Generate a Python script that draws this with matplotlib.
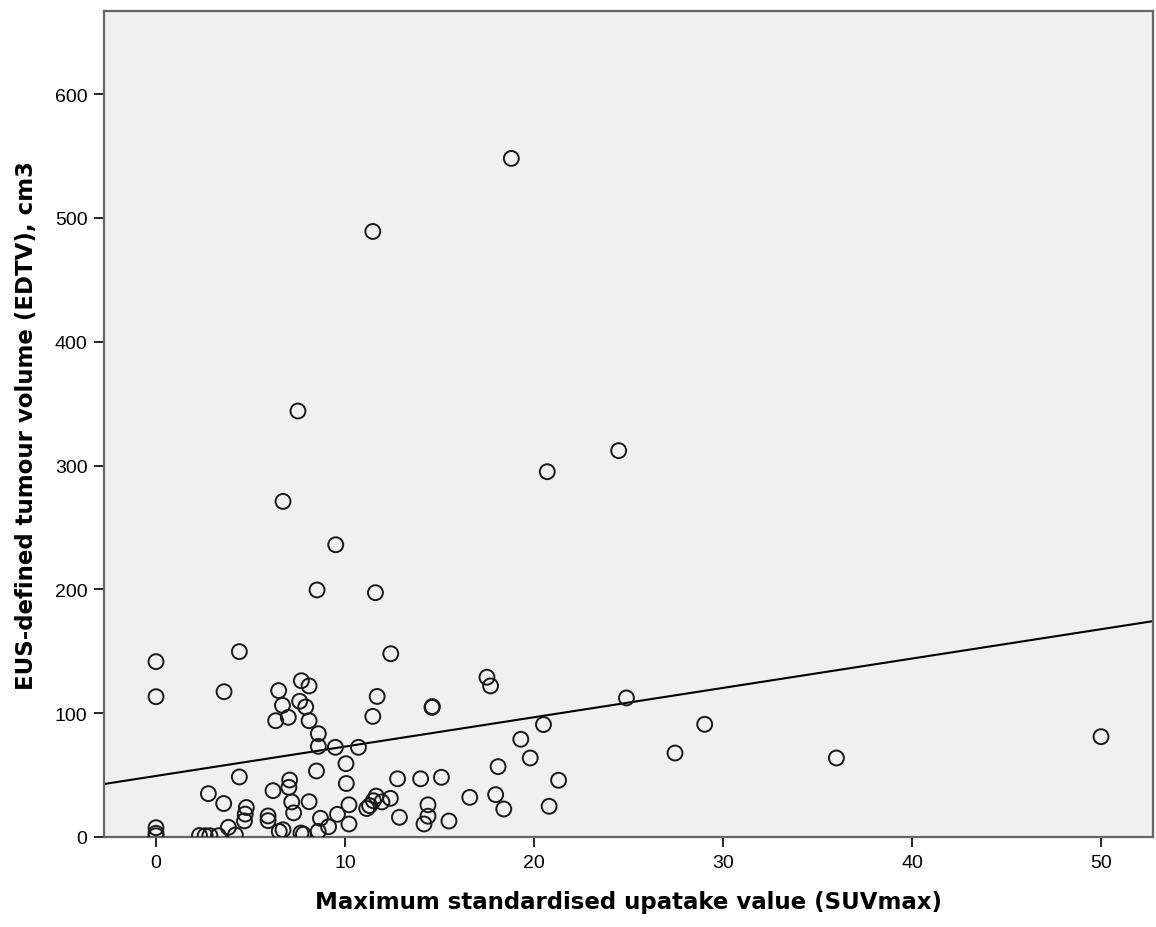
import numpy as np
import matplotlib
matplotlib.use("Agg")
import matplotlib.pyplot as plt

# SUVmax vs EUS-defined tumour volume, one entry per patient
suv_max = [
    18.8, 11.47, 7.51, 6.72, 24.48, 20.7, 9.51, 8.52, 11.61,
    0.0, 0.0, 4.41, 3.6, 12.42, 7.69, 8.1, 6.49, 7.6, 7.92, 6.69,
    7.0, 6.33, 8.1, 8.59, 8.59, 9.49, 10.71, 11.7, 11.47, 14.6,
    14.62, 17.51, 17.7, 24.89, 20.5, 19.3, 19.8, 21.3, 20.8, 18.1,
    17.97, 18.4, 16.6, 15.5, 29.03, 27.46, 36.0, 50.0,
    10.05, 10.07, 8.49, 4.41, 2.77, 3.58, 4.78, 4.72, 4.68, 5.93,
    5.93, 6.19, 7.07, 7.03, 7.18, 7.28, 8.1, 8.7, 9.13, 9.6,
    10.21, 10.21, 8.58, 7.67, 7.8, 6.52, 6.72, 3.83, 4.2, 2.3,
    2.6, 2.85, 3.3, 0.0, 0.0, 0.0, 11.15, 11.3, 11.5, 11.65,
    11.95, 12.4, 12.78, 12.88, 14.0, 15.1, 14.39, 14.39, 14.18,
]
edtv_cm3 = [
    548, 489, 344, 271, 312, 295, 236, 199.5, 197.3,
    141.6, 113.3, 149.7, 117.3, 148, 126.2, 122, 118.2, 109.6, 105, 106.3,
    96.6, 93.9, 93.9, 83.4, 73.2, 72.4, 72.4, 113.5, 97.4, 104.7,
    105.3, 129, 122, 112.3, 90.8, 78.9, 63.8, 45.8, 24.8, 56.8,
    34.2, 22.6, 32, 12.9, 91, 67.8, 63.8, 81,
    59.2, 43.2, 53.3, 48.5, 35, 27, 23.8, 18.5, 13, 17,
    13.2, 37.4, 46, 40.1, 28.3, 19.5, 28.5, 15.1, 8.3, 18.3,
    26, 10.5, 4.5, 3.2, 2.2, 4.5, 5.8, 7.8, 1.6, 1.2,
    1.0, 1.0, 1.0, 7.5, 3, 1, 23, 25.3, 29.3, 33,
    28.3, 31.2, 47, 15.9, 47, 48.2, 26, 16.8, 10.5,
]

# linear fit line (intercept, slope)
fit_intercept = 49.3
fit_slope = 2.37

x_ticks = [0, 10, 20, 30, 40, 50]
y_ticks = [0, 100, 200, 300, 400, 500, 600]

plt.rcParams['font.family'] = ['Liberation Sans', 'DejaVu Sans']

fig = plt.figure(figsize=(11.56, 9.28), dpi=100)
ax = fig.add_axes([0.090, 0.097, 0.9074, 0.890])
ax.set_facecolor('#f0f0f0')

ax.scatter(suv_max, edtv_cm3, s=115, facecolors='none',
           edgecolors='#1a1a1a', linewidths=1.4, zorder=3)

xlim = (-2.75, 52.75)
xs = np.array(xlim)
ax.plot(xs, fit_intercept + fit_slope * xs, color='black', lw=1.5, zorder=2)

ax.set_xlim(*xlim)
ax.set_ylim(0, 667)
ax.set_xticks(x_ticks)
ax.set_yticks(y_ticks)
ax.tick_params(direction='out', length=7, width=1.2, labelsize=14,
               colors='black', pad=5)

for sp in ax.spines.values():
    sp.set_color('#666666')
    sp.set_linewidth(1.6)

label_font = dict(family='DejaVu Sans', fontsize=16.5, fontweight='bold')
ax.set_xlabel('Maximum standardised upatake value (SUVmax)',
              labelpad=14, **label_font)
ax.set_ylabel('EUS-defined tumour volume (EDTV), cm3',
              labelpad=12, **label_font)

fig.savefig('out.png', dpi=100, facecolor='white')
